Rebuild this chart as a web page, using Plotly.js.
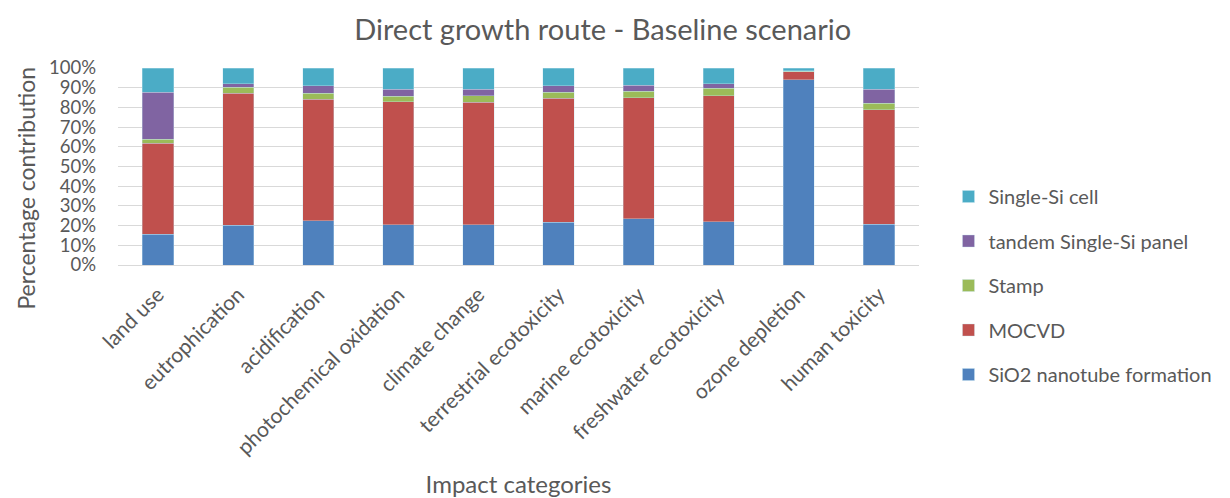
<!DOCTYPE html>
<html><head><meta charset="utf-8">
<script src="https://cdn.plot.ly/plotly-3.0.1.min.js"></script>
<style>html,body{margin:0;padding:0;background:#fff}#chart{width:1230px;height:498px}</style>
</head><body><div id="chart"></div>
<script>
const categories = ["land use","eutrophication","acidification","photochemical oxidation","climate change","terrestrial ecotoxicity","marine ecotoxicity","freshwater ecotoxicity","ozone depletion","human toxicity"];
const sio2 =   [15.6, 20.2, 22.5, 20.5, 20.5, 21.7, 23.6, 22.0, 94.1, 20.8];
const mocvd =  [46.3, 66.9, 61.7, 62.4, 62.2, 62.9, 61.3, 63.9,  3.9, 58.0];
const stamp =  [ 2.0,  3.2,  3.1,  2.7,  3.2,  3.2,  3.2,  3.8,  0.3,  3.2];
const tandem = [23.9,  1.6,  3.7,  3.6,  3.3,  3.2,  3.1,  2.2,  0.3,  7.2];
const cell =   [12.2,  8.1,  9.0, 10.8, 10.8,  9.0,  8.8,  8.1,  1.4, 10.8];
const seriesNames = ["SiO2 nanotube formation","MOCVD","Stamp","tandem Single-Si panel","Single-Si cell"];
const seriesColors = ["#4F81BD","#C0504D","#9BBB59","#8064A2","#4BACC6"];
const seriesValues = [sio2, mocvd, stamp, tandem, cell];
const yTicks = [0,10,20,30,40,50,60,70,80,90,100];

const traces = seriesValues.map((v,i)=>({
  type:'bar', x:categories, y:v, name:seriesNames[i], legendgroup:'g'+i, legendrank: 10-i,
  marker:{color:seriesColors[i], line:{color:'rgba(200,230,240,0.6)', width:0.6}}
}));
const font = "Lato, Open Sans, sans-serif";
const gray = '#595959';
const layout = {
  width:1230, height:498, barmode:'stack', bargap:0.61,
  paper_bgcolor:'#fff', plot_bgcolor:'#fff',
  margin:{l:118, r:297, t:68, b:233},
  font:{family:font, color:gray, size:20},
  title:{text:'Direct growth route - Baseline scenario', font:{size:29, color:gray}, x:0.49, xref:'container', xanchor:'center', y:0.94, yref:'container', yanchor:'middle'},
  xaxis:{tickangle:-45, tickfont:{size:21, color:gray}, showline:true, linecolor:'#d9d9d9', linewidth:1, ticks:'', ticklabelstandoff:8,
    title:{text:'Impact categories', font:{size:24, color:gray}, standoff:28}},
  yaxis:{range:[0,100], tickvals:yTicks, ticktext:yTicks.map(t=>t+'%'), gridcolor:'#d9d9d9', gridwidth:1, zeroline:false,
    tickfont:{size:18.5, color:gray}, ticks:'', ticklabelstandoff:21},
  annotations:[{text:'Percentage contribution', xref:'paper', yref:'paper', x:-(118-24)/815, y:(265-188)/197, xanchor:'center', yanchor:'middle',
    textangle:-90, showarrow:false, font:{size:23, color:gray}}],
  legend:{x:(963-118)/815, xanchor:'left', y:(265-177)/197, yanchor:'top', yref:'paper', traceorder:'grouped', tracegroupgap:15.5,
    font:{size:20, color:gray}, itemwidth:30, maxheight:400},
  showlegend:true
};
Plotly.newPlot('chart', traces, layout, {displayModeBar:false, staticPlot:true});
</script></body></html>
